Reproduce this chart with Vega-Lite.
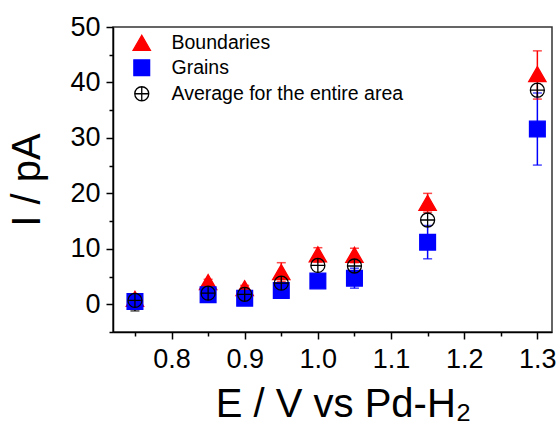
{
  "$schema": "https://vega.github.io/schema/vega-lite/v6.json",
  "autosize": "none",
  "width": 439,
  "height": 305,
  "padding": {"left": 113, "top": 27, "right": 8, "bottom": 98},
  "background": "white",
  "config": {
    "view": {"stroke": "#333333", "strokeWidth": 1.5},
    "axis": {
      "grid": false,
      "domainColor": "#000000",
      "domainWidth": 1.5,
      "tickColor": "#000000",
      "tickWidth": 1.5,
      "labelFont": "Liberation Sans",
      "labelFontSize": 27,
      "labelColor": "#000000",
      "labelFlush": false,
      "labelOverlap": false,
      "titleFont": "Liberation Sans",
      "titleFontSize": 40,
      "titleFontWeight": "normal",
      "titleColor": "#000000"
    },
    "legend": {
      "labelFont": "Liberation Sans",
      "labelFontSize": 19.5,
      "labelColor": "#000000",
      "labelLimit": 0,
      "symbolOpacity": 1
    }
  },
  "resolve": {"scale": {"y": "shared"}, "axis": {"y": "independent"}},
  "data": {
    "values": [
      {"E": 0.75, "series": "Boundaries", "I": 1.0, "lo": 0.6, "hi": 1.4},
      {"E": 0.85, "series": "Boundaries", "I": 4.0, "lo": 3.5, "hi": 4.5},
      {"E": 0.9, "series": "Boundaries", "I": 2.9, "lo": 2.4, "hi": 3.4},
      {"E": 0.95, "series": "Boundaries", "I": 5.8, "lo": 4.1, "hi": 7.5},
      {"E": 1.0, "series": "Boundaries", "I": 9.0, "lo": 7.6, "hi": 10.2},
      {"E": 1.05, "series": "Boundaries", "I": 8.9, "lo": 7.5, "hi": 10.1},
      {"E": 1.15, "series": "Boundaries", "I": 18.3, "lo": 16.6, "hi": 20.0},
      {"E": 1.3, "series": "Boundaries", "I": 41.5, "lo": 37.0, "hi": 45.7},
      {"E": 0.75, "series": "Grains", "I": 0.5, "lo": 0.2, "hi": 0.8},
      {"E": 0.85, "series": "Grains", "I": 1.7, "lo": 1.3, "hi": 2.1},
      {"E": 0.9, "series": "Grains", "I": 1.1, "lo": 0.7, "hi": 1.5},
      {"E": 0.95, "series": "Grains", "I": 2.5, "lo": 2.0, "hi": 3.0},
      {"E": 1.0, "series": "Grains", "I": 4.2, "lo": 3.1, "hi": 5.3},
      {"E": 1.05, "series": "Grains", "I": 4.7, "lo": 2.9, "hi": 6.5},
      {"E": 1.15, "series": "Grains", "I": 11.2, "lo": 8.2, "hi": 14.2},
      {"E": 1.3, "series": "Grains", "I": 31.6, "lo": 25.1, "hi": 38.1},
      {"E": 0.75, "series": "Average for the entire area", "I": 0.7, "lo": -1.2, "hi": 0.7},
      {"E": 0.85, "series": "Average for the entire area", "I": 2.0},
      {"E": 0.9, "series": "Average for the entire area", "I": 1.8},
      {"E": 0.95, "series": "Average for the entire area", "I": 3.8},
      {"E": 1.0, "series": "Average for the entire area", "I": 7.0},
      {"E": 1.05, "series": "Average for the entire area", "I": 6.9},
      {"E": 1.15, "series": "Average for the entire area", "I": 15.2},
      {"E": 1.3, "series": "Average for the entire area", "I": 38.6}
    ]
  },
  "encoding": {
    "x": {
      "field": "E",
      "type": "quantitative",
      "scale": {"domain": [0.72, 1.32], "nice": false, "zero": false},
      "axis": {
        "title": "E / V vs Pd-H₂",
        "values": [0.75, 0.8, 0.85, 0.9, 0.95, 1.0, 1.05, 1.1, 1.15, 1.2, 1.25, 1.3],
        "labelExpr": "abs(datum.value*10 - round(datum.value*10)) < 0.001 ? format(datum.value, '.1f') : ''",
        "tickSize": {"condition": {"test": "abs(datum.value*10 - round(datum.value*10)) < 0.001", "value": 7}, "value": 4},
        "labelPadding": 7,
        "titlePadding": 12,
        "titleX": 230,
        "titleAlign": "center"
      }
    }
  },
  "layer": [
    {
      "mark": {"type": "rule", "strokeWidth": 1.5},
      "encoding": {
        "y": {
          "field": "lo",
          "type": "quantitative",
          "axis": {
            "orient": "left",
            "values": [-5, 5, 15, 25, 35, 45],
            "labels": false,
            "domain": false,
            "tickSize": 4,
            "title": null
          }
        },
        "y2": {"field": "hi"},
        "stroke": {"field": "series", "type": "nominal"}
      }
    },
    {
      "mark": {"type": "point", "shape": "stroke", "size": 81, "strokeWidth": 1.5},
      "encoding": {
        "y": {"field": "hi", "type": "quantitative", "axis": null},
        "stroke": {"field": "series", "type": "nominal"}
      }
    },
    {
      "mark": {"type": "point", "shape": "stroke", "size": 81, "strokeWidth": 1.5},
      "encoding": {
        "y": {"field": "lo", "type": "quantitative", "axis": null},
        "stroke": {"field": "series", "type": "nominal"}
      }
    },
    {
      "mark": {"type": "point", "filled": true, "opacity": 1, "strokeWidth": 1.3},
      "encoding": {
        "y": {
          "field": "I",
          "type": "quantitative",
          "scale": {"domain": [-5, 50], "nice": false, "zero": false},
          "axis": {
            "orient": "left",
            "title": "I / pA",
            "values": [0, 10, 20, 30, 40, 50],
            "tickSize": 7,
            "labelPadding": 6,
            "titlePadding": 22
          }
        },
        "shape": {"field": "series", "type": "nominal",
          "scale": {"domain": ["Boundaries", "Grains", "Average for the entire area"],
            "range": ["triangle-up", "square", "M-1,0A1,1 0 1,0 1,0A1,1 0 1,0 -1,0Z M-1,0H1 M0,-1V1"]},
          "legend": {
            "title": null,
            "orient": "none",
            "legendX": 19,
            "legendY": 6,
            "padding": 0,
            "labelOffset": 20,
            "rowPadding": 4,
            "symbolStrokeWidth": 1.3
          }
        },
        "fill": {"field": "series", "type": "nominal",
          "scale": {"domain": ["Boundaries", "Grains", "Average for the entire area"], "range": ["#ff0000", "#0000ff", "rgba(0,0,0,0)"]}},
        "stroke": {"field": "series", "type": "nominal",
          "scale": {"domain": ["Boundaries", "Grains", "Average for the entire area"], "range": ["#ff0000", "#0000ff", "#000000"]}},
        "size": {"field": "series", "type": "nominal",
          "scale": {"domain": ["Boundaries", "Grains", "Average for the entire area"], "range": [300, 196, 225]}}
      }
    }
  ]
}
